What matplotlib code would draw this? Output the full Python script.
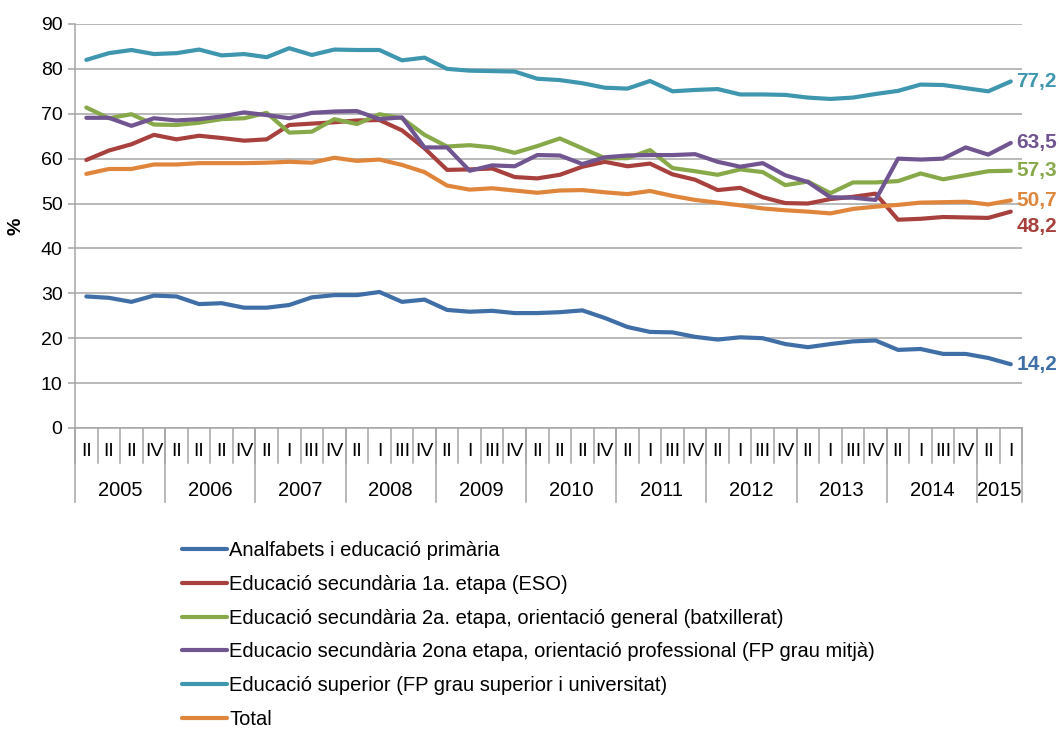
import numpy as np
import matplotlib
matplotlib.use('Agg')
import matplotlib.pyplot as plt
import matplotlib.transforms as mtransforms

plt.rcParams['font.family'] = ['Liberation Sans', 'DejaVu Sans']

years = ['2005', '2006', '2007', '2008', '2009', '2010', '2011', '2012', '2013', '2014', '2015']
quarter_labels = (['II', 'II', 'II', 'IV'] * 2
                  + ['II', 'I', 'III', 'IV'] * 3
                  + ['II', 'II', 'II', 'IV']
                  + ['II', 'I', 'III', 'IV'] * 4
                  + ['II', 'I'])
quarters_per_year = [4, 4, 4, 4, 4, 4, 4, 4, 4, 4, 2]

primaria = [29.3, 29.0, 28.1, 29.5, 29.3, 27.6, 27.8, 26.8, 26.8, 27.4, 29.1, 29.6, 29.6, 30.3,
            28.1, 28.6, 26.3, 25.9, 26.1, 25.6, 25.6, 25.8, 26.2, 24.5, 22.5, 21.4, 21.3, 20.3,
            19.7, 20.2, 20.0, 18.7, 18.0, 18.7, 19.3, 19.5, 17.4, 17.6, 16.5, 16.5, 15.6, 14.2]
eso = [59.7, 61.8, 63.2, 65.3, 64.3, 65.1, 64.6, 64.0, 64.3, 67.5, 67.8, 68.1, 68.5, 68.6,
       66.3, 62.3, 57.5, 57.6, 57.8, 55.9, 55.6, 56.4, 58.2, 59.3, 58.3, 58.9, 56.5, 55.3,
       53.0, 53.5, 51.4, 50.1, 50.0, 51.0, 51.5, 52.2, 46.4, 46.6, 47.0, 46.9, 46.8, 48.2]
batxillerat = [71.4, 69.0, 69.9, 67.6, 67.5, 68.0, 68.8, 69.0, 70.2, 65.8, 66.0, 68.8, 67.7, 69.9,
               69.0, 65.3, 62.7, 63.0, 62.5, 61.3, 62.8, 64.5, 62.3, 60.1, 60.1, 61.9, 57.9, 57.2,
               56.4, 57.6, 57.0, 54.1, 54.9, 52.3, 54.7, 54.7, 55.0, 56.7, 55.4, 56.3, 57.2, 57.3]
fp_mitja = [69.1, 69.1, 67.3, 69.0, 68.5, 68.8, 69.4, 70.3, 69.7, 69.0, 70.2, 70.5, 70.6, 68.8,
            69.2, 62.5, 62.5, 57.3, 58.5, 58.3, 60.8, 60.7, 58.8, 60.3, 60.7, 60.8, 60.8, 61.0,
            59.3, 58.2, 59.0, 56.3, 54.8, 51.4, 51.3, 50.8, 60.0, 59.8, 60.0, 62.5, 60.9, 63.5]
superior = [82.0, 83.5, 84.2, 83.3, 83.5, 84.3, 83.0, 83.3, 82.6, 84.6, 83.1, 84.3, 84.2, 84.2,
            81.9, 82.5, 80.0, 79.6, 79.5, 79.4, 77.8, 77.5, 76.8, 75.8, 75.6, 77.3, 75.0, 75.3,
            75.5, 74.3, 74.3, 74.2, 73.6, 73.3, 73.6, 74.4, 75.1, 76.5, 76.4, 75.7, 75.0, 77.2]
total = [56.6, 57.7, 57.7, 58.7, 58.7, 59.0, 59.0, 59.0, 59.1, 59.3, 59.1, 60.2, 59.5, 59.8,
         58.6, 57.0, 54.0, 53.1, 53.4, 52.9, 52.4, 52.9, 53.0, 52.5, 52.1, 52.8, 51.7, 50.8,
         50.2, 49.6, 48.9, 48.5, 48.2, 47.8, 48.8, 49.3, 49.7, 50.2, 50.3, 50.4, 49.8, 50.7]

series_names = ['Analfabets i educació primària',
                'Educació secundària 1a. etapa (ESO)',
                'Educació secundària 2a. etapa, orientació general (batxillerat)',
                'Educacio secundària 2ona etapa, orientació professional (FP grau mitjà)',
                'Educació superior (FP grau superior i universitat)',
                'Total']
series = [primaria, eso, batxillerat, fp_mitja, superior, total]
colors = ['#3F6FA6', '#A8413E', '#88A94A', '#705590', '#3E97AF', '#E0863C']
label_offsets = [0, -11, 0, 0, 0, 0]

fig = plt.figure(figsize=(10.6, 7.33), dpi=100)
ax = fig.add_axes([0.0708, 0.4161, 0.8934, 0.5512])

x = np.arange(len(quarter_labels))
for name, vals, col, dy in zip(series_names, series, colors, label_offsets):
    ax.plot(x, vals, color=col, lw=3.0, label=name, solid_joinstyle='round',
            solid_capstyle='round', zorder=3)
    ax.annotate(f'{vals[-1]:.1f}'.replace('.', ','), (x[-1], vals[-1]),
                xytext=(4, dy), textcoords='offset points', ha='left', va='center',
                color=col, fontsize=15, fontweight='bold', annotation_clip=False)

ax.set_xlim(-0.5, len(x) - 0.5)
ax.set_ylim(0, 90)
ax.set_yticks(range(0, 91, 10))
ax.tick_params(axis='y', labelsize=14, length=5, color='#A6A6A6', width=1.1, pad=4)
ax.yaxis.grid(True, color='#A6A6A6', lw=1.1)
ax.set_axisbelow(True)
for s in ['top', 'right']:
    ax.spines[s].set_visible(False)
for s in ['left', 'bottom']:
    ax.spines[s].set_color('#A6A6A6')
    ax.spines[s].set_linewidth(1.1)
ax.set_ylabel('%', fontsize=14, fontweight='bold', labelpad=12)

# two-level category axis
ax.set_xticks(x)
ax.set_xticklabels(quarter_labels, fontsize=14)
ax.tick_params(axis='x', length=0, pad=11)
trans = mtransforms.blended_transform_factory(ax.transData, ax.transAxes)
for b in np.arange(len(x) + 1) - 0.5:
    ax.plot([b, b], [0, -0.087], color='#A6A6A6', lw=1.1, transform=trans, clip_on=False)
edges = np.concatenate([[0], np.cumsum(quarters_per_year)]) - 0.5
for b in edges:
    ax.plot([b, b], [0, -0.183], color='#A6A6A6', lw=1.1, transform=trans, clip_on=False)
for yr, a, b in zip(years, edges[:-1], edges[1:]):
    ax.text((a + b) / 2, -0.155, yr, transform=trans, ha='center', va='center', fontsize=14.5)

fig.legend(loc='upper left', bbox_to_anchor=(0.1625, 0.276), frameon=False, fontsize=14.5,
           handlelength=2.2, handletextpad=0.12, labelspacing=0.74, borderpad=0)

fig.savefig('out.png', dpi=100)
